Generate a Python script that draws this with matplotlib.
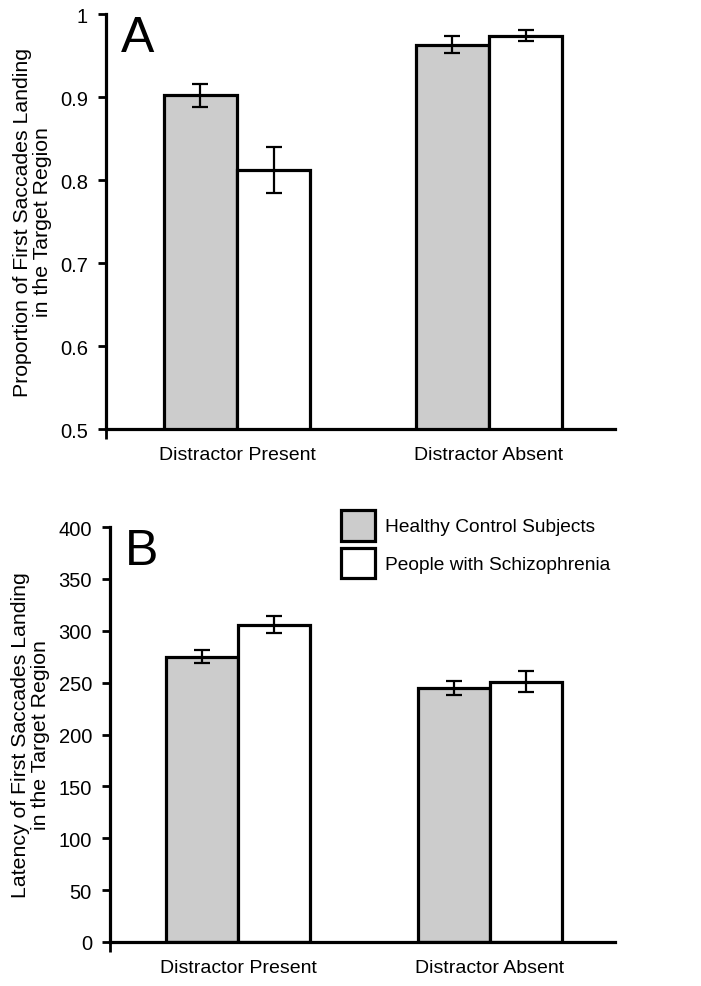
import numpy as np
import matplotlib
matplotlib.use('Agg')
import matplotlib.pyplot as plt
from matplotlib.patches import Patch

plt.rcParams['font.family'] = ['Liberation Sans', 'DejaVu Sans']

# données
conditions = ['Distractor Present', 'Distractor Absent']
groups = ['Healthy Control Subjects', 'People with Schizophrenia']
prop_ctrl = [0.902, 0.963]
prop_ctrl_err = [0.014, 0.010]
prop_scz = [0.812, 0.974]
prop_scz_err = [0.028, 0.007]
lat_ctrl = [275, 245]
lat_ctrl_err = [6, 6.5]
lat_scz = [306, 251]
lat_scz_err = [8, 10]

couleurs = ['#cccccc', 'white']

fig = plt.figure(figsize=(7.01, 9.87), dpi=100)
axA = fig.add_axes([0.1512, 0.5643, 0.7261, 0.4205])
axB = fig.add_axes([0.1569, 0.0446, 0.7204, 0.4204])

def panneau(ax, v1, e1, v2, e2, ylim, yticks, fmt, ylabel, lettre, xlim, w):
    x = np.arange(len(conditions))
    ax.bar(x - w/2, v1, w, color=couleurs[0], edgecolor='black', linewidth=2.3, zorder=2)
    ax.bar(x + w/2, v2, w, color=couleurs[1], edgecolor='black', linewidth=2.3, zorder=2)
    ax.errorbar(x - w/2, v1, yerr=e1, fmt='none', ecolor='black', elinewidth=1.6, capsize=6, capthick=1.6, zorder=3)
    ax.errorbar(x + w/2, v2, yerr=e2, fmt='none', ecolor='black', elinewidth=1.6, capsize=6, capthick=1.6, zorder=3)
    ax.set_ylim(*ylim)
    ax.set_xlim(*xlim)
    ax.set_yticks(yticks)
    ax.set_yticklabels([fmt(v) for v in yticks])
    ax.set_xticks(x)
    ax.set_xticklabels(conditions)
    ax.tick_params(axis='x', length=0, pad=12, labelsize=14)
    ax.tick_params(axis='y', length=6, width=2, direction='out', pad=7, labelsize=14.5)
    ax.set_xticks([xlim[0]], minor=True)
    ax.tick_params(axis='x', which='minor', length=7, width=2, direction='out')
    for s in ['top', 'right']:
        ax.spines[s].set_visible(False)
    for s in ['left', 'bottom']:
        ax.spines[s].set_linewidth(2.3)
    ax.set_ylabel(ylabel, fontsize=15.3, labelpad=6, linespacing=1.05)
    ax.text(0.03, 0.998, lettre, transform=ax.transAxes, fontsize=36, va='top', ha='left')

panneau(axA, prop_ctrl, prop_ctrl_err, prop_scz, prop_scz_err, (0.5, 1.0),
        [0.5, 0.6, 0.7, 0.8, 0.9, 1.0], lambda v: f'{v:g}',
        'Proportion of First Saccades Landing\nin the Target Region', 'A', (-0.52, 1.5), 0.29)
panneau(axB, lat_ctrl, lat_ctrl_err, lat_scz, lat_scz_err, (0, 400),
        list(range(0, 401, 50)), lambda v: f'{v:d}',
        'Latency of First Saccades Landing\nin the Target Region', 'B', (-0.508, 1.496), 0.285)

handles = [Patch(facecolor=c, edgecolor='black', linewidth=2.3) for c in couleurs]
fig.legend(handles, groups, loc='upper left', bbox_to_anchor=(341/701, 1 - 511/987),
           frameon=False, fontsize=13.8, handlelength=1.75, handleheight=2.1,
           labelspacing=0.35, handletextpad=0.55, borderpad=0, borderaxespad=0)

plt.savefig('out.png', dpi=100)
